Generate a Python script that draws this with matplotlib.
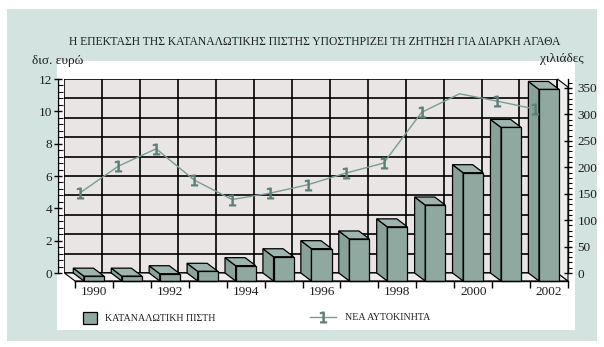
import matplotlib
matplotlib.use('Agg')
import matplotlib.pyplot as plt
import numpy as np
from matplotlib.patches import Polygon, Rectangle, Patch
from matplotlib.lines import Line2D
from matplotlib.ticker import MultipleLocator, FixedLocator, NullFormatter, FixedFormatter

# ---------------- data ----------------
years = list(range(1990, 2003))
credit = [0.3, 0.3, 0.45, 0.6, 0.95, 1.5, 2.0, 2.6, 3.35, 4.7, 6.7, 9.5, 11.85]   # δισ. ευρώ
cars = [152, 202, 235, 176, 139, 151, 167, 189, 208, 304, 339, 325, 310]          # χιλιάδες
year_labels = [str(y) if y % 2 == 0 else '' for y in years]
title = 'Η ΕΠΕΚΤΑΣΗ ΤΗΣ ΚΑΤΑΝΑΛΩΤΙΚΗΣ ΠΙΣΤΗΣ ΥΠΟΣΤΗΡΙΖΕΙ ΤΗ ΖΗΤΗΣΗ ΓΙΑ ΔΙΑΡΚΗ ΑΓΑΘΑ'
left_label = 'δισ. ευρώ'
right_label = 'χιλιάδες'
legend_labels = ['ΚΑΤΑΝΑΛΩΤΙΚΗ ΠΙΣΤΗ', 'ΝΕΑ ΑΥΤΟΚΙΝΗΤΑ']
left_max = 12
right_max = 367

# ---------------- style ----------------
GREEN = '#d3e3df'
WALL = '#e9e5e5'
FLOOR = '#efecec'
BAR = '#8fa9a1'
BAR_TOP = '#9db5ae'
BAR_SIDE = '#88a29a'
LINE = '#7a9c95'
MARK = '#5d8078'
TXT = '#1e1e1e'

plt.rcParams['font.family'] = ['Liberation Serif', 'DejaVu Serif']

W, H = 604, 347
fig = plt.figure(figsize=(W / 100, H / 100), dpi=100)
fig.patch.set_facecolor('white')

fig.patches.append(Rectangle((7 / W, 1 - 341 / H), 590 / W, 332 / H, transform=fig.transFigure,
                             facecolor=GREEN, edgecolor='none', zorder=-10))
fig.patches.append(Rectangle((57 / W, 1 - 330 / H), 518 / W, 269 / H, transform=fig.transFigure,
                             facecolor='white', edgecolor='none', zorder=-9))

# back plane axes (pixel geometry)
BL, BR, BT, BB = 64.4, 557.4, 79.0, 273.0
ax = fig.add_axes([BL / W, 1 - BB / H, (BR - BL) / W, (BB - BT) / H])
n = len(years)
x = np.arange(n)
ax.set_xlim(-0.5, n - 0.5)
ax.set_ylim(0, left_max)
ax.set_facecolor(WALL)

px_x = (BR - BL) / n
px_y = (BB - BT) / left_max
DX = 10.6 / px_x          # depth offset (front = back + D)
DY = -8.0 / px_y

# gridlines on back wall
ax.hlines(np.linspace(0, left_max, 11), -0.5, n - 0.5, color='black', lw=1.2, zorder=1.5)
ax.vlines(np.arange(-0.5, n), 0, left_max, color='black', lw=1.2, zorder=1.5)

# floor & right wall
floor = Polygon([(-0.5, 0), (n - 0.5, 0), (n - 0.5 + DX, DY), (-0.5 + DX, DY)], closed=True,
                facecolor=FLOOR, edgecolor='black', lw=0.8, clip_on=False, zorder=1.2)
ax.add_patch(floor)
rwall = Polygon([(n - 0.5, 0), (n - 0.5, left_max), (n - 0.5 + DX, left_max + DY), (n - 0.5 + DX, DY)],
                closed=True, facecolor=FLOOR, edgecolor='black', lw=0.8, clip_on=False, zorder=1.2)
ax.add_patch(rwall)

for s in ['top', 'right', 'bottom']:
    ax.spines[s].set_visible(False)
ax.spines['left'].set_position(('outward', 4.3))
ax.spines['left'].set_linewidth(1.0)
ax.set_xticks([])
ax.yaxis.set_major_locator(MultipleLocator(2))
ax.yaxis.set_minor_locator(MultipleLocator(0.4))
ax.tick_params(axis='y', which='major', direction='inout', length=6, width=1.0, pad=1.5,
               labelsize=9.5, labelcolor=TXT)
ax.tick_params(axis='y', which='minor', direction='in', length=3.5, width=0.8)

# 3D bars
BW = 0.53
for xi, v in zip(x, credit):
    l, r = xi - BW / 2, xi + BW / 2
    top = Polygon([(l + DX, v + DY), (r + DX, v + DY), (r, v), (l, v)], closed=True,
                  facecolor=BAR_TOP, edgecolor='black', lw=0.9, clip_on=False, zorder=3)
    side = Polygon([(l + DX, DY), (l + DX, v + DY), (l, v), (l, 0)], closed=True,
                   facecolor=BAR_SIDE, edgecolor='black', lw=0.9, clip_on=False, zorder=3)
    ax.add_patch(side)
    ax.add_patch(top)
ax.bar(x + DX, credit, width=BW, bottom=DY, color=BAR, edgecolor='black', lw=0.9,
       clip_on=False, zorder=3.2)

# front x-axis
FL = BL + 10.6
FB = BB + 8.0
axf = fig.add_axes([FL / W, 1 - FB / H, (BR - BL) / W, (BB - BT) / H])
axf.set_xlim(-0.5, n - 0.5)
axf.patch.set_visible(False)
for s in ['top', 'right', 'left']:
    axf.spines[s].set_visible(False)
axf.spines['bottom'].set_linewidth(1.0)
axf.set_yticks([])
axf.xaxis.set_major_locator(FixedLocator(np.arange(-0.5, n, 1)))
axf.xaxis.set_major_formatter(NullFormatter())
axf.xaxis.set_minor_locator(FixedLocator(x))
axf.xaxis.set_minor_formatter(FixedFormatter(year_labels))
axf.tick_params(axis='x', which='major', direction='out', length=5, width=1.0)
axf.tick_params(axis='x', which='minor', length=0, pad=3.5, labelsize=9.5, labelcolor=TXT)
axf.set_zorder(ax.get_zorder() + 0.5)

# right axis + line
ax2 = ax.twinx()
ax2.set_zorder(axf.get_zorder() + 0.5)
ax2.set_ylim(0, right_max)
for s in ['top', 'left', 'bottom']:
    ax2.spines[s].set_visible(False)
ax2.spines['right'].set_position(('outward', 7.6))
ax2.spines['right'].set_linewidth(1.0)
ax2.yaxis.set_major_locator(MultipleLocator(50))
ax2.yaxis.set_minor_locator(MultipleLocator(10))
ax2.tick_params(axis='y', which='major', direction='inout', length=6, width=1.0, pad=4,
                labelsize=9.5, labelcolor=TXT)
ax2.tick_params(axis='y', which='minor', direction='out', length=3, width=0.8)
mk_idx = [i for i in range(n) if i != 10]
ax2.plot(x - 0.08, cars, color=LINE, lw=1.0, marker='$1$', markersize=8, markevery=mk_idx,
         markerfacecolor=MARK, markeredgecolor=MARK, markeredgewidth=0.6, clip_on=False, zorder=5)

# texts
fig.text(315 / W, 1 - 42 / H, title, ha='center', va='center', fontsize=8.4, color=TXT)
fig.text(58 / W, 1 - 61 / H, left_label, ha='center', va='center', fontsize=9.5, color=TXT)
fig.text(562 / W, 1 - 59 / H, right_label, ha='center', va='center', fontsize=9.5, color=TXT)

# legends
fs = 7.2
fpx = fs / 0.72
h1 = Patch(facecolor=BAR, edgecolor='black', lw=0.9)
leg1 = fig.legend([h1], [legend_labels[0]], loc='center left', bbox_to_anchor=(83 / W, 1 - 318 / H),
                  frameon=False, fontsize=fs, handlelength=14 / fpx, handleheight=15 / fpx,
                  handletextpad=8 / fpx, borderpad=0, borderaxespad=0)
h2 = Line2D([0], [0], color=LINE, lw=1.0, marker='$1$', markersize=8,
            markerfacecolor=MARK, markeredgecolor=MARK, markeredgewidth=0.6)
leg2 = fig.legend([h2], [legend_labels[1]], loc='center left', bbox_to_anchor=(310 / W, 1 - 318 / H),
                  frameon=False, fontsize=fs, handlelength=26 / fpx,
                  handletextpad=9 / fpx, borderpad=0, borderaxespad=0)
for t in leg1.get_texts() + leg2.get_texts():
    t.set_color(TXT)

fig.savefig('out.png', dpi=100)
